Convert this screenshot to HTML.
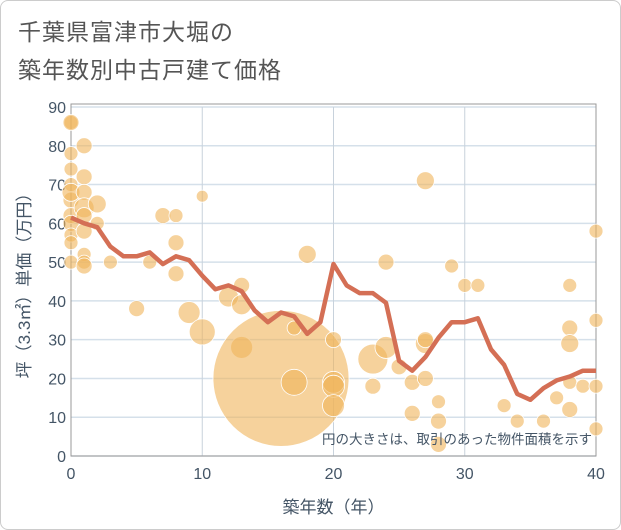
<!DOCTYPE html>
<html><head><meta charset="utf-8"><style>
body{margin:0;background:#fff;}
#wrap{position:relative;width:619px;height:528px;border:1px solid #ccc;border-radius:8px;overflow:hidden;font-family:"Liberation Sans","Noto Sans CJK JP",sans-serif;}
.title{position:absolute;left:17px;font-size:23px;color:#555;letter-spacing:1px;}
</style></head><body>
<div id="wrap">
<div class="title" style="top:12px">千葉県富津市大堀の</div>
<div class="title" style="top:50px">築年数別中古戸建て価格</div>
<svg id="chart" width="621" height="530" style="position:absolute;left:-1px;top:-1px"></svg>
</div>
<script>
const xTicks=[0,10,20,30,40];
const yTicks=[0,10,20,30,40,50,60,70,80,90];
const lineYears=[0,1,2,3,4,5,6,7,8,9,10,11,12,13,14,15,16,17,18,19,20,21,22,23,24,25,26,27,28,29,30,31,32,33,34,35,36,37,38,39,40];
const lineValues=[61.5,60,59,54,51.5,51.5,52.5,49.5,51.5,50.5,46.5,43,44,42.5,37.5,34.5,37,36,31.5,34.5,49.5,44,42,42,39.5,24.5,22,25.5,30.5,34.5,34.5,35.5,27.5,23.5,16,14.5,17.5,19.5,20.5,22,22];
const bubbleX=[0,0,0,0,0,0,0,0,0,0,0,0,1,1,1,1,1,1,1,1,1,2,2,3,5,6,7,8,8,8,9,10,10,12,13,13,13,16,17,17,18,20,20,20,20,23,23,24,24,25,26,26,27,27,27,27,28,28,28,29,30,31,33,34,36,37,38,38,38,38,38,39,40,40,40,40];
const bubbleY=[86,78,74,70,66,62,60,57,55,50,86,68,80,72,68,64,62,58,52,50,49,65,60,50,38,50,62,62,55,47,37,67,32,41,44,39,28,20,19,33,52,30,19,18,13,25,18,50,28,23,11,19,29,71,30,20,14,9,3,49,44,44,13,9,9,15,44,33,29,12,19,18,58,35,18,7];
const bubbleR=[7,7,7,7,8,8,8,7,7,7,8,9,8,8,8,10,8,8,7,7,8,9,7,7,8,7,8,7,8,8,11,6,13,10,8,10,11,68,13,7,9,8,11,11,11,15,8,8,11,8,8,8,10,9,8,8,7,8,8,7,7,7,7,7,7,7,7,8,9,8,7,7,7,7,7,7];
const svg=document.getElementById('chart');const NS='http://www.w3.org/2000/svg';
const X0=71,X1=596,Y0=456,Y1=107;
const sx=v=>X0+(X1-X0)*v/40, sy=v=>Y0-(Y0-Y1)*v/90;
function mk(t,a,p){const e=document.createElementNS(NS,t);for(const k in a)e.setAttribute(k,a[k]);(p||svg).appendChild(e);return e;}
yTicks.forEach(v=>{const l=mk('line',{x1:X0,x2:X1,y1:sy(v),y2:sy(v),stroke:'#d5e0ea','stroke-width':1.5});


const t=mk('text',{x:X0-5,y:sy(v)+6,'text-anchor':'end','font-size':16,fill:'#445566'});t.textContent=v;

});
xTicks.forEach(v=>{const l=mk('line',{x1:sx(v),x2:sx(v),y1:Y1,y2:Y0,stroke:'#c8d2dc','stroke-width':1});


const t=mk('text',{x:sx(v),y:Y0+23,'text-anchor':'middle','font-size':16,fill:'#445566'});t.textContent=v;

});
const fr=mk('rect',{x:X0,y:Y1-3,width:X1-X0,height:Y0-Y1+3,fill:'none',stroke:'#999','stroke-width':1});


bubbleX.forEach((x,i)=>{const c=mk('circle',{cx:sx(x),cy:sy(bubbleY[i]),r:bubbleR[i],fill:'rgba(240,180,90,0.6)',stroke:'#fff','stroke-width':0.8});

});
const p=mk('polyline',{points:lineYears.map((x,i)=>sx(x)+','+sy(lineValues[i])).join(' '),fill:'none',stroke:'#d46f55','stroke-width':4.5,'stroke-linejoin':'round'});


const n=mk('text',{x:592,y:444,'text-anchor':'end','font-size':13.5,fill:'#445566'});n.textContent='円の大きさは、取引のあった物件面積を示す';


const xt=mk('text',{x:sx(20),y:513,'text-anchor':'middle','font-size':17,fill:'#445566'});xt.textContent='築年数（年）';


const yt=mk('text',{x:0,y:0,'text-anchor':'middle','font-size':17,fill:'#445566',transform:'translate(30,'+sy(45)+') rotate(-90)'});yt.textContent='坪（3.3㎡）単価（万円）';


</script>
</body></html>
